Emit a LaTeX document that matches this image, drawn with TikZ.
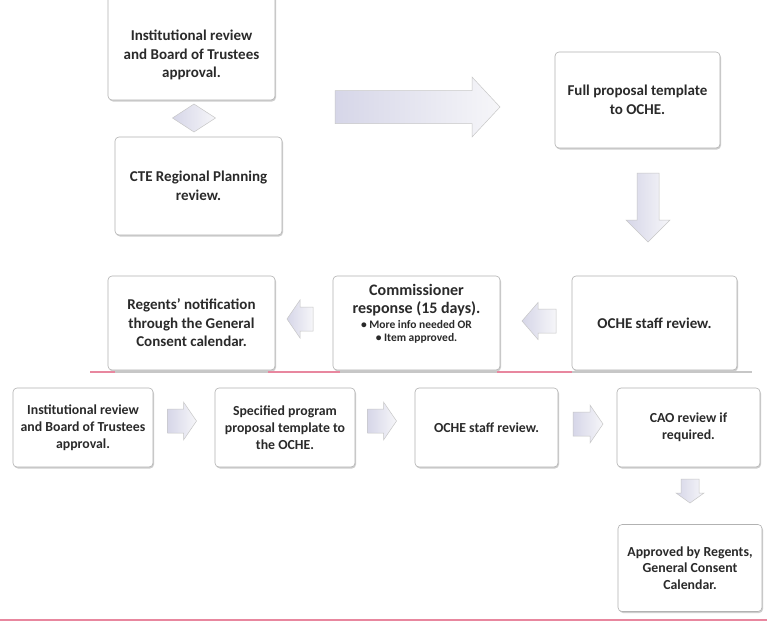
\documentclass[tikz,border=0pt]{standalone}
\usepackage{fontspec}
\setmainfont{Carlito}
\usetikzlibrary{shadows}
\definecolor{arrowA}{HTML}{D6D6E8}
\definecolor{arrowB}{HTML}{F6F6F9}
\definecolor{pinkline}{HTML}{E8879F}
\definecolor{txt}{HTML}{2A2A2A}
\newcommand\barrow[7]{%
\begin{scope}[shift={(#1,#2)},rotate=#3]
\draw[arr] (-#4/2,-#5/2) -- (#4/2-#7,-#5/2) -- (#4/2-#7,-#6/2) -- (#4/2,0) -- (#4/2-#7,#6/2) -- (#4/2-#7,#5/2) -- (-#4/2,#5/2) -- cycle;
\end{scope}}
\tikzset{
  box/.style={draw=black!30, line width=0.6pt, fill=white, rounded corners=4pt,
    drop shadow={shadow xshift=1pt, shadow yshift=-1.5pt, opacity=0.35, fill=black!55},
    inner sep=2pt, align=center, text=txt},
  bigtxt/.style={font=\fontsize{15}{18.5}\selectfont\bfseries},
  smalltxt/.style={font=\fontsize{13.8}{16.8}\selectfont\bfseries},
  arr/.style={draw=black!22, line width=0.5pt, left color=arrowA, right color=arrowB}
}
\begin{document}
\begin{tikzpicture}[x=1pt,y=-1pt]
\useasboundingbox[fill=white] (0,0) rectangle (767,624);
% top section
\node[box, minimum width=167pt, minimum height=110pt] (b1) at (191.5,45) {};
\node[bigtxt, align=center, text=txt] (t1) at (191.5,55) {Institutional review\\and Board of Trustees\\approval.};
\node[box, bigtxt, minimum width=167pt, minimum height=98pt] (b2) at (198.5,186) {CTE Regional Planning\\review.};
\node[box, bigtxt, minimum width=165pt, minimum height=96pt] (b3) at (637.5,100) {Full proposal template\\to OCHE.};
\node[box, bigtxt, minimum width=165pt, minimum height=94pt] (b4) at (654.5,323) {OCHE staff review.};
\node[box, minimum width=167pt, minimum height=94pt] (b5) at (416.5,323) {};
\node[align=center, text=txt, font=\fontsize{16}{18.5}\selectfont\bfseries] (t5) at (416.5,300) {Commissioner\\response (15 days).};
\node[align=center, text=txt, font=\fontsize{11.5}{13.5}\selectfont\bfseries] (t5b) at (416.5,332) {• More info needed OR\\• Item approved.};
\node[box, bigtxt, minimum width=167pt, minimum height=94pt] (b6) at (191.5,323) {Regents' notification\\through the General\\Consent calendar.};
% diamond connector
\draw[arr] (172.5,118) -- (194,104) -- (215.5,118) -- (194,132) -- cycle;
% block arrows
\barrow{417.5}{107}{0}{165}{33}{60}{28}
\barrow{648}{207.5}{-90}{69}{22}{44}{22}
\barrow{539}{321}{180}{34}{24}{37}{16}
\barrow{300}{319}{180}{26}{24}{38}{13}
% separator line
\draw[black!22, line width=1.2pt] (90,372) -- (752,372);
\draw[pinkline, line width=1.5pt] (90,372) -- (115,372);
\draw[pinkline, line width=1.5pt] (268,372) -- (340,372);
\draw[pinkline, line width=1.5pt] (497,372) -- (572,372);
% bottom section
\node[box, smalltxt, minimum width=140pt, minimum height=79pt] (c1) at (83,427.5) {Institutional review\\and Board of Trustees\\approval.};
\node[box, smalltxt, minimum width=140pt, minimum height=79pt] (c2) at (285,427.5) {Specified program\\proposal template to\\the OCHE.};
\node[box, smalltxt, minimum width=143pt, minimum height=79pt] (c3) at (486.5,427.5) {OCHE staff review.};
\node[box, smalltxt, minimum width=143pt, minimum height=79pt] (c4) at (688.5,427.5) {CAO review if\\required.};
\node[box, smalltxt, minimum width=144pt, minimum height=87pt] (c5) at (690,568) {Approved by Regents,\\General Consent\\Calendar.};
\barrow{182}{421}{0}{29}{24}{38}{13}
\barrow{382}{421}{0}{29}{24}{38}{13}
\barrow{588}{424}{0}{30}{24}{38}{13}
\barrow{690}{491}{-90}{24}{18}{28}{10}
% bottom line
\draw[pinkline, line width=2pt] (0,620) -- (767,620);
\end{tikzpicture}
\end{document}
